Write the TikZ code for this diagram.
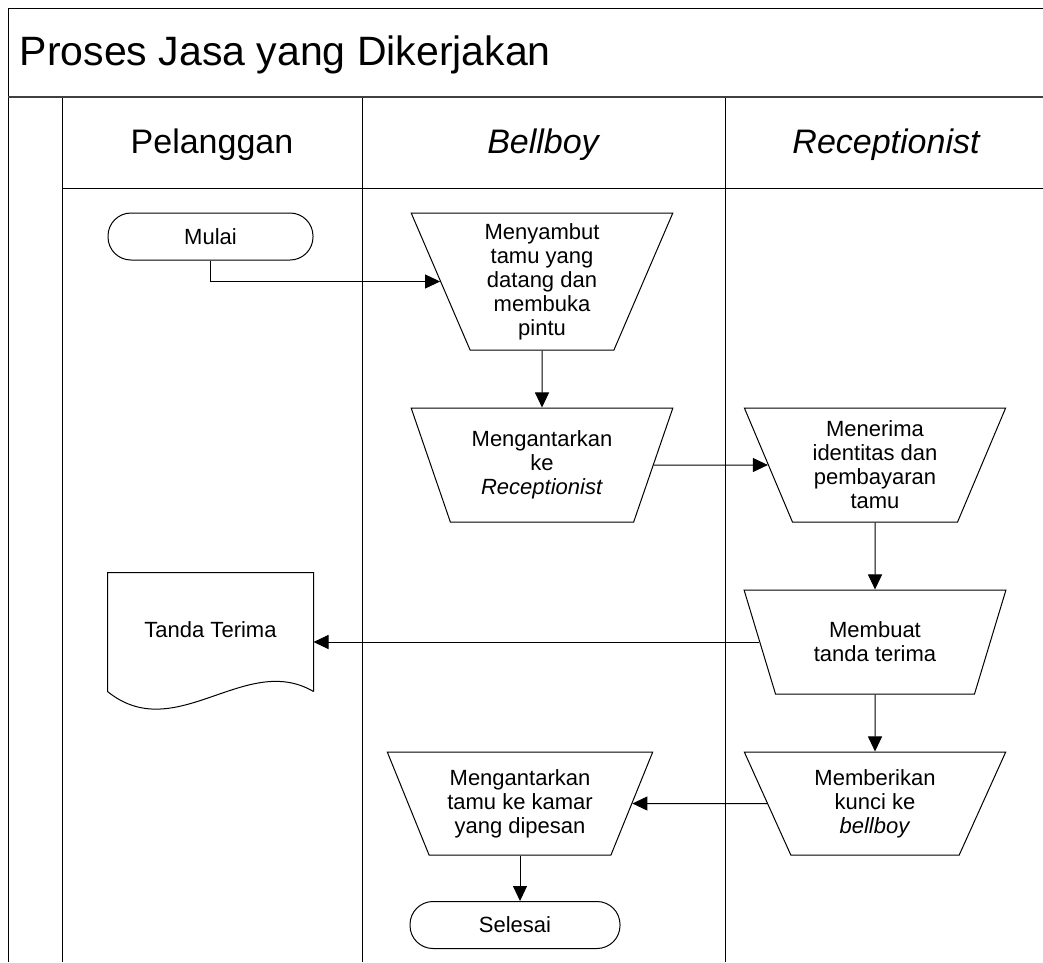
\documentclass[tikz,border=0pt]{standalone}
\usepackage{fontspec}
\setmainfont{Liberation Sans}
\usetikzlibrary{shapes.geometric,arrows.meta}
\newcommand{\boxfont}{\fontsize{22}{24}\selectfont}
\begin{document}
\begin{tikzpicture}[x=1pt,y=-1pt, line width=1pt,
  proc/.style={draw, trapezium, shape border rotate=180, trapezium stretches=true,
    minimum width=262pt, align=center, font=\boxfont, inner sep=0pt},
  term/.style={draw, rounded corners=23pt, minimum width=205pt, minimum height=47pt, font=\boxfont},
  doc/.style={minimum width=205pt, minimum height=118pt, font=\boxfont, inner sep=0pt},
  flow/.style={-{Triangle[length=15pt,width=14pt]}, line width=1pt},
  head/.style={font=\fontsize{34}{40}\selectfont},
  lane/.style={line width=1pt}
]
\useasboundingbox (0,0) rectangle (1043,962);
% frame and lanes
\draw[lane] (8,962) -- (8,8) -- (1043,8);
\draw[line width=2.5pt, black!75] (8,97) -- (1043,97);
\draw[lane] (62,98) -- (62,962);
\draw[lane] (62,188) -- (1043,188);
\draw[lane] (362,98) -- (362,962);
\draw[lane] (725,98) -- (725,962);
% titles
\node[anchor=west, font=\fontsize{41}{48}\selectfont] (title) at (16,55) {Proses Jasa yang Dikerjakan};
\node[head] (h1) at (212,145) {Pelanggan};
\node[head] (h2) at (543,145) {\itshape Bellboy};
\node[head] (h3) at (886,145) {\itshape Receptionist};
% nodes
\node[term] (mulai) at (210.5,236.5) {Mulai};
\node[proc, minimum height=137pt, trapezium angle=68] (n1) at (542,281.5) {Menyambut\\tamu yang\\datang dan\\membuka\\pintu};
\node[proc, minimum height=114pt, trapezium angle=66.3] (n2) at (542,465) {Mengantarkan\\ke\\\textit{Receptionist}};
\node[proc, minimum height=114pt, trapezium angle=67.6] (n3) at (875,465) {Menerima\\identitas dan\\pembayaran\\tamu};
\node[proc, minimum height=104pt, trapezium angle=64.3] (n4) at (875,642) {Membuat\\tanda terima};
\node[proc, minimum height=103pt, trapezium angle=64] (n5) at (875,803.5) {Memberikan\\kunci ke\\\textit{bellboy}};
\node[proc, minimum width=266pt, minimum height=103pt, trapezium angle=64] (n6) at (520,803.5) {Mengantarkan\\tamu ke kamar\\yang dipesan};
\node[term, minimum width=210pt] (selesai) at (515,925) {Selesai};
\node[doc] (tt) at (210.5,632) {\raisebox{5pt}{Tanda Terima}};
\draw (tt.south east) -- (tt.north east) -- (tt.north west) -- (tt.south west)
  .. controls +(68,55) and +(-68,-40) .. (tt.south east);
% connectors
\draw[flow] (mulai.south) |- (n1.west);
\draw[flow] (n1.south) -- (n2.north);
\draw[flow] (n2.east) -- (n3.west);
\draw[flow] (n3.south) -- (n4.north);
\draw[flow] (n4.west) -- (n4.west -| tt.east);
\draw[flow] (n4.south) -- (n5.north);
\draw[flow] (n5.west) -- (n6.east);
\draw[flow] (n6.south) -- (n6.south |- selesai.north);
\end{tikzpicture}
\end{document}
